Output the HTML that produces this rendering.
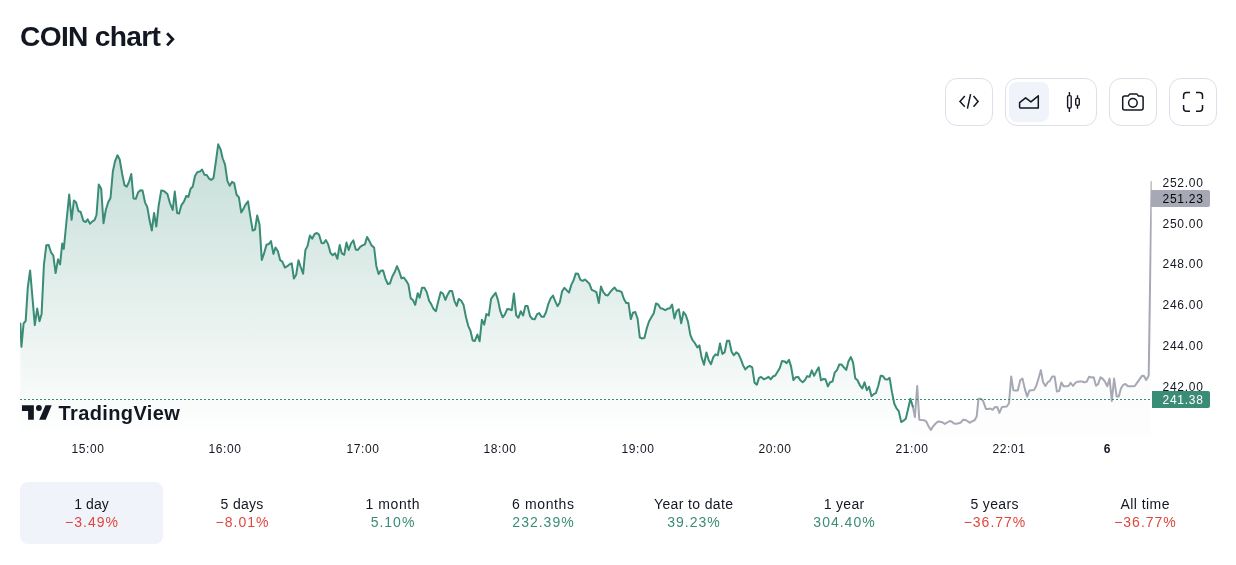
<!DOCTYPE html>
<html lang="en">
<head>
<meta charset="utf-8">
<title>COIN chart</title>
<style>
html,body{margin:0;padding:0;background:#fff;}
body{width:1236px;height:565px;position:relative;overflow:hidden;font-family:"Liberation Sans",sans-serif;color:#131722;}
.title{position:absolute;left:20px;top:19.7px;font-size:28.2px;font-weight:700;letter-spacing:-0.7px;line-height:32px;white-space:nowrap;color:#131722;}
.chev{position:absolute;left:160px;top:28px;}
.icons{position:absolute;left:940px;top:78px;}
.btn{position:absolute;top:78px;height:48px;box-sizing:border-box;border:1px solid #dcdfe9;border-radius:12px;background:#fff;}
.btn svg{position:absolute;}
.sel{position:absolute;left:3px;top:3px;width:40px;height:40px;border-radius:8px;background:#f0f3fa;}
#chart{position:absolute;left:0;top:130px;}
.tabs{position:absolute;left:20px;top:482px;width:1197px;height:62px;}
.tab{position:absolute;top:0;width:143px;height:62px;border-radius:8px;text-align:center;font-size:14px;}
.tab.on{background:#f0f3fa;}
.tab .l{position:absolute;left:0;right:0;top:13px;line-height:18px;color:#131722;letter-spacing:0.1px;}
.tab .v{position:absolute;left:0;right:0;top:31px;line-height:18px;letter-spacing:1px;text-indent:1px;}
.neg{color:#e0463d;}
.pos{color:#3a8d76;}
</style>
</head>
<body>
<div class="title">COIN chart</div>
<svg class="chev" width="20" height="24" viewBox="160 28 20 24"><path d="M167.1 33.3 L172.8 39.3 L167.1 45.4" fill="none" stroke="#131722" stroke-width="2.8" stroke-miterlimit="10"/></svg>

<div class="btn" style="left:945px;width:48px;"></div>
<div class="btn" style="left:1005px;width:92px;"><div class="sel"></div></div>
<div class="btn" style="left:1109px;width:48px;"></div>
<div class="btn" style="left:1169px;width:48px;"></div>
<svg class="icons" width="296" height="48" viewBox="940 78 296 48" fill="none" stroke="#131722" stroke-width="1.5">
<path d="M964.8 96.1 L960 101.4 L964.8 106.7 M970.6 94.1 L967.4 108.7 M973.5 96.1 L978.1 101.4 L973.5 106.7"/>
<path d="M1020.4 107.9 H1038.3 V95.8 L1030.9 101.9 L1025.6 97.8 L1019.6 102.6 V107.1 a0.8 0.8 0 0 0 0.8 0.8 Z" stroke-linejoin="round"/>
<path d="M1069.4 92.1 V95.6 M1069.4 108 V111.9 M1077.5 95.2 V98.4 M1077.5 105.2 V108.7" stroke-width="1.4"/>
<rect x="1067.6" y="95.6" width="3.6" height="12.4" rx="1.2" stroke-width="1.4"/>
<rect x="1075.7" y="98.4" width="3.6" height="6.8" rx="1.2" stroke-width="1.4"/>
<path d="M1124.7 96.1 H1127.6 a1 1 0 0 0 0.9 -0.5 L1129.3 94.4 a1 1 0 0 1 0.9 -0.5 H1136.4 a1 1 0 0 1 0.9 0.5 L1138.1 95.6 a1 1 0 0 0 0.9 0.5 H1141.1 a2 2 0 0 1 2 2 V108 a2 2 0 0 1 -2 2 H1124.7 a2 2 0 0 1 -2 -2 V98.1 a2 2 0 0 1 2 -2 Z"/>
<circle cx="1132.9" cy="102.85" r="4.3"/>
<path d="M1183.6 99 V95.6 a3 3 0 0 1 3 -3 H1190 M1196 92.6 H1199.5 a3 3 0 0 1 3 3 V99 M1202.5 104.9 V108.2 a3 3 0 0 1 -3 3 H1196 M1190 111.2 H1186.6 a3 3 0 0 1 -3 -3 V104.9"/>
</svg>

<svg id="chart" width="1236" height="340" viewBox="0 130 1236 340">
<!--CHART-->
<defs>
<linearGradient id="gg" gradientUnits="userSpaceOnUse" x1="0" y1="135" x2="0" y2="435"><stop offset="0" stop-color="#3a8c76" stop-opacity="0.30"/><stop offset="1" stop-color="#3a8c76" stop-opacity="0"/></linearGradient>
<linearGradient id="yg" gradientUnits="userSpaceOnUse" x1="0" y1="135" x2="0" y2="435"><stop offset="0" stop-color="#a6a9b5" stop-opacity="0.10"/><stop offset="1" stop-color="#a6a9b5" stop-opacity="0.02"/></linearGradient>
<clipPath id="cp"><rect x="20" y="130" width="1131.7" height="305"/></clipPath>
</defs>
<g clip-path="url(#cp)">
<path d="M20.4 323.5 L21.4 346.8 L23.6 323.5 L25.7 320.9 L27.8 287.3 L30.1 270.4 L32.5 298.0 L34.8 325.2 L37.2 308.6 L39.5 321.3 L41.6 313.9 L43.9 265.0 L46.3 245.3 L48.6 244.9 L51.0 252.3 L53.3 255.5 L55.6 273.1 L58.0 259.3 L60.1 264.4 L62.2 243.5 L63.8 249.0 L66.5 221.0 L69.2 194.5 L71.6 219.8 L73.9 200.4 L76.0 202.3 L78.4 211.0 L80.7 212.0 L83.3 220.8 L85.6 222.0 L87.7 219.4 L90.0 223.7 L92.4 221.4 L94.5 220.2 L96.5 215.0 L98.8 184.4 L101.2 188.7 L103.5 223.3 L105.8 210.0 L108.2 202.3 L110.5 198.0 L112.9 171.2 L115.0 161.4 L117.5 155.2 L119.7 159.5 L122.2 174.0 L124.5 185.2 L126.7 186.7 L129.0 181.9 L131.3 174.0 L133.5 198.4 L135.8 198.8 L138.2 192.2 L140.5 190.2 L142.6 190.6 L145.0 202.3 L147.3 207.2 L149.5 219.8 L151.8 230.5 L154.1 213.0 L156.3 226.6 L158.6 206.2 L161.2 190.6 L163.9 191.0 L167.4 194.1 L169.7 202.3 L172.7 210.0 L174.8 191.6 L177.1 213.0 L179.1 213.6 L181.4 205.2 L183.8 201.9 L186.3 196.0 L188.4 196.9 L190.6 188.7 L192.7 186.7 L195.0 176.0 L197.4 172.1 L199.9 171.5 L202.1 169.6 L204.4 174.7 L206.7 175.0 L209.1 178.6 L211.2 179.9 L213.5 178.0 L215.9 161.4 L218.2 144.3 L220.7 149.7 L222.7 158.5 L225.0 164.3 L227.4 180.9 L229.7 185.8 L232.0 181.9 L234.2 183.2 L236.5 194.5 L238.9 197.4 L241.2 212.4 L243.3 209.1 L245.7 204.3 L248.0 201.3 L250.3 216.3 L252.7 230.5 L255.0 229.6 L257.2 215.5 L259.5 224.4 L261.8 260.0 L263.9 253.9 L266.5 244.7 L268.9 244.0 L271.0 241.1 L273.4 253.9 L275.5 247.5 L277.8 251.0 L280.2 260.2 L282.3 261.6 L284.9 267.6 L287.3 266.2 L289.4 264.5 L291.7 263.3 L293.9 278.6 L296.2 274.7 L298.5 260.2 L300.7 267.0 L303.1 273.7 L305.4 250.0 L307.5 246.1 L309.9 235.5 L312.2 238.7 L314.6 234.0 L317.0 233.0 L319.1 234.7 L321.5 243.0 L323.7 243.2 L325.9 240.1 L328.2 244.4 L330.5 252.9 L332.7 255.3 L335.0 253.2 L337.4 258.8 L339.7 244.9 L341.8 253.4 L344.2 254.8 L346.5 242.5 L348.7 250.0 L351.0 243.5 L353.4 240.4 L355.7 249.6 L357.8 250.0 L360.2 246.8 L362.5 245.4 L364.9 244.4 L367.1 236.9 L369.4 241.1 L371.5 245.4 L374.1 247.5 L376.3 265.9 L378.6 274.1 L380.7 270.8 L383.1 270.4 L385.4 278.6 L387.8 284.0 L389.9 283.6 L392.3 276.5 L394.6 272.3 L397.0 266.2 L399.3 271.6 L401.5 278.4 L403.8 277.5 L406.2 280.8 L408.4 284.4 L410.7 298.4 L412.8 299.9 L415.2 304.8 L417.7 293.2 L419.6 297.7 L422.0 287.8 L424.4 287.8 L426.7 292.1 L429.1 300.8 L431.2 304.1 L433.6 309.1 L435.9 311.2 L438.3 301.3 L440.7 292.1 L442.9 293.5 L445.4 299.9 L447.5 294.9 L449.7 290.9 L452.1 290.9 L454.4 300.8 L456.7 305.9 L458.8 298.9 L461.2 300.8 L463.6 305.1 L465.9 316.8 L468.2 325.8 L470.4 330.6 L472.7 340.5 L474.9 340.9 L477.4 334.5 L479.6 341.3 L481.9 319.7 L484.2 324.6 L486.4 314.0 L488.8 315.4 L491.1 298.9 L493.4 295.6 L495.6 292.8 L497.9 299.9 L500.3 311.2 L502.7 317.3 L504.8 314.7 L507.2 309.1 L509.5 309.3 L511.8 310.2 L513.9 293.5 L516.2 315.4 L518.4 317.8 L520.8 311.2 L523.1 315.4 L525.4 305.9 L527.6 305.9 L530.0 316.1 L532.4 319.0 L534.7 319.3 L537.0 314.4 L539.2 313.0 L541.5 316.8 L543.8 316.8 L546.0 312.2 L548.3 304.1 L550.6 298.4 L553.0 295.6 L555.1 300.8 L557.5 306.2 L559.8 302.4 L562.1 291.3 L564.4 287.9 L566.8 290.4 L569.0 292.6 L571.5 284.4 L573.6 280.2 L575.8 273.4 L578.1 273.8 L580.4 279.9 L582.8 280.9 L584.9 279.5 L587.2 281.6 L589.4 283.7 L591.7 289.8 L594.0 290.8 L596.4 292.2 L598.8 303.1 L601.0 286.5 L603.3 292.2 L605.7 295.0 L607.8 295.5 L610.1 292.2 L612.5 289.4 L614.6 287.5 L617.0 290.8 L619.3 290.8 L621.7 292.2 L623.8 298.8 L626.2 303.1 L628.5 303.1 L630.8 319.1 L633.0 312.7 L635.3 312.0 L637.6 318.7 L639.8 337.5 L642.2 338.5 L644.4 337.9 L646.8 328.3 L649.0 321.5 L651.5 317.0 L653.7 313.4 L656.0 303.5 L658.2 304.5 L660.5 308.2 L662.8 308.8 L665.2 310.2 L667.5 308.8 L669.9 308.2 L672.1 304.5 L674.4 318.4 L676.7 311.0 L678.8 309.2 L681.2 323.3 L683.5 312.0 L685.7 314.8 L688.0 321.9 L690.4 335.1 L692.5 340.0 L694.8 343.0 L697.4 347.5 L699.4 345.4 L701.6 357.4 L704.0 364.8 L706.4 352.4 L708.7 360.2 L711.0 364.2 L713.2 357.4 L715.5 354.3 L717.8 355.3 L720.0 343.5 L722.3 353.9 L724.6 352.4 L727.0 340.7 L729.2 340.7 L731.6 351.7 L733.8 355.3 L736.2 352.4 L738.4 353.9 L740.8 359.1 L743.0 365.2 L745.4 369.4 L747.6 367.0 L749.8 365.9 L752.2 367.3 L754.6 382.9 L756.9 384.6 L759.0 377.9 L761.1 376.9 L763.8 379.3 L766.1 378.4 L768.5 376.9 L770.7 379.3 L773.0 376.5 L775.3 375.5 L777.7 371.6 L779.8 368.0 L782.1 360.9 L784.5 361.4 L786.6 363.1 L789.0 359.9 L791.1 366.6 L793.4 380.1 L795.8 377.2 L798.2 376.9 L800.3 380.3 L802.7 382.2 L805.0 380.1 L807.1 376.1 L809.5 376.9 L811.8 370.4 L814.1 375.8 L816.3 371.6 L818.7 367.3 L821.0 380.3 L823.4 378.9 L825.5 379.3 L827.9 386.4 L830.1 382.2 L832.5 381.5 L834.7 372.7 L837.0 370.1 L839.3 364.5 L841.5 364.5 L843.8 367.3 L846.2 369.9 L848.5 361.2 L850.9 357.0 L853.1 362.6 L855.2 378.2 L857.5 380.3 L859.9 385.3 L862.3 388.5 L864.5 382.4 L866.9 390.2 L869.1 386.7 L871.5 396.2 L873.7 394.2 L875.9 393.1 L878.3 385.7 L880.7 375.8 L882.9 376.1 L885.1 379.2 L887.5 379.6 L889.6 377.8 L892.0 392.4 L894.3 403.7 L896.5 408.3 L898.8 411.2 L901.2 422.1 L903.5 420.7 L905.9 418.5 L908.2 408.6 L910.4 398.7 L912.8 406.5 L912.8 435 L20.4 435 Z" fill="url(#gg)"/>
<path d="M912.8 406.5 L914.9 417.1 L917.2 386.0 L919.3 419.7 L921.7 420.0 L924.0 420.2 L926.4 421.7 L928.5 426.3 L930.9 429.9 L933.2 426.3 L935.6 423.5 L938.0 421.4 L940.3 421.7 L942.7 422.5 L944.8 423.9 L947.2 422.5 L949.8 421.0 L951.9 421.7 L954.0 423.5 L956.4 423.8 L958.7 423.2 L960.8 422.5 L963.2 419.7 L965.6 420.0 L967.9 421.4 L970.0 422.8 L972.4 421.1 L974.6 420.2 L976.7 416.4 L978.5 398.7 L980.9 398.7 L983.1 400.8 L985.9 408.9 L988.0 408.9 L990.4 408.6 L992.7 409.8 L994.8 407.2 L997.2 406.9 L999.4 412.9 L1002.0 406.9 L1004.4 406.7 L1006.8 406.5 L1009.0 403.3 L1011.2 376.4 L1013.3 390.2 L1015.7 390.5 L1017.8 390.5 L1020.2 380.3 L1022.5 378.6 L1024.9 389.1 L1027.2 396.6 L1029.4 390.5 L1031.7 390.2 L1034.1 389.9 L1036.2 386.0 L1038.6 378.2 L1040.9 370.1 L1043.0 382.0 L1045.4 386.0 L1047.6 382.4 L1049.8 381.0 L1052.2 376.4 L1054.6 376.4 L1056.9 391.6 L1059.2 390.9 L1061.4 382.4 L1063.6 386.3 L1066.0 386.3 L1068.4 386.0 L1070.6 382.9 L1073.0 386.0 L1075.3 382.9 L1077.6 381.7 L1079.8 381.5 L1082.2 381.5 L1084.5 382.4 L1086.8 381.5 L1089.0 376.8 L1091.5 377.5 L1093.7 377.2 L1096.0 385.7 L1098.2 383.9 L1100.5 377.2 L1102.8 378.9 L1105.0 381.7 L1107.3 386.3 L1109.6 378.6 L1111.8 400.9 L1114.1 378.6 L1116.7 396.6 L1118.8 396.6 L1120.9 388.5 L1123.3 384.8 L1125.4 383.9 L1128.0 386.3 L1130.2 386.3 L1132.5 386.3 L1134.8 386.0 L1137.0 382.9 L1139.3 379.6 L1141.7 376.1 L1143.8 375.8 L1146.2 380.0 L1148.7 375.4 L1151.6 182.0 L1151 435 L912.8 435 Z" fill="url(#yg)"/>
<path d="M912.8 406.5 L914.9 417.1 L917.2 386.0 L919.3 419.7 L921.7 420.0 L924.0 420.2 L926.4 421.7 L928.5 426.3 L930.9 429.9 L933.2 426.3 L935.6 423.5 L938.0 421.4 L940.3 421.7 L942.7 422.5 L944.8 423.9 L947.2 422.5 L949.8 421.0 L951.9 421.7 L954.0 423.5 L956.4 423.8 L958.7 423.2 L960.8 422.5 L963.2 419.7 L965.6 420.0 L967.9 421.4 L970.0 422.8 L972.4 421.1 L974.6 420.2 L976.7 416.4 L978.5 398.7 L980.9 398.7 L983.1 400.8 L985.9 408.9 L988.0 408.9 L990.4 408.6 L992.7 409.8 L994.8 407.2 L997.2 406.9 L999.4 412.9 L1002.0 406.9 L1004.4 406.7 L1006.8 406.5 L1009.0 403.3 L1011.2 376.4 L1013.3 390.2 L1015.7 390.5 L1017.8 390.5 L1020.2 380.3 L1022.5 378.6 L1024.9 389.1 L1027.2 396.6 L1029.4 390.5 L1031.7 390.2 L1034.1 389.9 L1036.2 386.0 L1038.6 378.2 L1040.9 370.1 L1043.0 382.0 L1045.4 386.0 L1047.6 382.4 L1049.8 381.0 L1052.2 376.4 L1054.6 376.4 L1056.9 391.6 L1059.2 390.9 L1061.4 382.4 L1063.6 386.3 L1066.0 386.3 L1068.4 386.0 L1070.6 382.9 L1073.0 386.0 L1075.3 382.9 L1077.6 381.7 L1079.8 381.5 L1082.2 381.5 L1084.5 382.4 L1086.8 381.5 L1089.0 376.8 L1091.5 377.5 L1093.7 377.2 L1096.0 385.7 L1098.2 383.9 L1100.5 377.2 L1102.8 378.9 L1105.0 381.7 L1107.3 386.3 L1109.6 378.6 L1111.8 400.9 L1114.1 378.6 L1116.7 396.6 L1118.8 396.6 L1120.9 388.5 L1123.3 384.8 L1125.4 383.9 L1128.0 386.3 L1130.2 386.3 L1132.5 386.3 L1134.8 386.0 L1137.0 382.9 L1139.3 379.6 L1141.7 376.1 L1143.8 375.8 L1146.2 380.0 L1148.7 375.4 L1151.6 182.0" fill="none" stroke="#a6a9b5" stroke-width="2" stroke-linejoin="round" stroke-linecap="round"/>
<path d="M20.4 323.5 L21.4 346.8 L23.6 323.5 L25.7 320.9 L27.8 287.3 L30.1 270.4 L32.5 298.0 L34.8 325.2 L37.2 308.6 L39.5 321.3 L41.6 313.9 L43.9 265.0 L46.3 245.3 L48.6 244.9 L51.0 252.3 L53.3 255.5 L55.6 273.1 L58.0 259.3 L60.1 264.4 L62.2 243.5 L63.8 249.0 L66.5 221.0 L69.2 194.5 L71.6 219.8 L73.9 200.4 L76.0 202.3 L78.4 211.0 L80.7 212.0 L83.3 220.8 L85.6 222.0 L87.7 219.4 L90.0 223.7 L92.4 221.4 L94.5 220.2 L96.5 215.0 L98.8 184.4 L101.2 188.7 L103.5 223.3 L105.8 210.0 L108.2 202.3 L110.5 198.0 L112.9 171.2 L115.0 161.4 L117.5 155.2 L119.7 159.5 L122.2 174.0 L124.5 185.2 L126.7 186.7 L129.0 181.9 L131.3 174.0 L133.5 198.4 L135.8 198.8 L138.2 192.2 L140.5 190.2 L142.6 190.6 L145.0 202.3 L147.3 207.2 L149.5 219.8 L151.8 230.5 L154.1 213.0 L156.3 226.6 L158.6 206.2 L161.2 190.6 L163.9 191.0 L167.4 194.1 L169.7 202.3 L172.7 210.0 L174.8 191.6 L177.1 213.0 L179.1 213.6 L181.4 205.2 L183.8 201.9 L186.3 196.0 L188.4 196.9 L190.6 188.7 L192.7 186.7 L195.0 176.0 L197.4 172.1 L199.9 171.5 L202.1 169.6 L204.4 174.7 L206.7 175.0 L209.1 178.6 L211.2 179.9 L213.5 178.0 L215.9 161.4 L218.2 144.3 L220.7 149.7 L222.7 158.5 L225.0 164.3 L227.4 180.9 L229.7 185.8 L232.0 181.9 L234.2 183.2 L236.5 194.5 L238.9 197.4 L241.2 212.4 L243.3 209.1 L245.7 204.3 L248.0 201.3 L250.3 216.3 L252.7 230.5 L255.0 229.6 L257.2 215.5 L259.5 224.4 L261.8 260.0 L263.9 253.9 L266.5 244.7 L268.9 244.0 L271.0 241.1 L273.4 253.9 L275.5 247.5 L277.8 251.0 L280.2 260.2 L282.3 261.6 L284.9 267.6 L287.3 266.2 L289.4 264.5 L291.7 263.3 L293.9 278.6 L296.2 274.7 L298.5 260.2 L300.7 267.0 L303.1 273.7 L305.4 250.0 L307.5 246.1 L309.9 235.5 L312.2 238.7 L314.6 234.0 L317.0 233.0 L319.1 234.7 L321.5 243.0 L323.7 243.2 L325.9 240.1 L328.2 244.4 L330.5 252.9 L332.7 255.3 L335.0 253.2 L337.4 258.8 L339.7 244.9 L341.8 253.4 L344.2 254.8 L346.5 242.5 L348.7 250.0 L351.0 243.5 L353.4 240.4 L355.7 249.6 L357.8 250.0 L360.2 246.8 L362.5 245.4 L364.9 244.4 L367.1 236.9 L369.4 241.1 L371.5 245.4 L374.1 247.5 L376.3 265.9 L378.6 274.1 L380.7 270.8 L383.1 270.4 L385.4 278.6 L387.8 284.0 L389.9 283.6 L392.3 276.5 L394.6 272.3 L397.0 266.2 L399.3 271.6 L401.5 278.4 L403.8 277.5 L406.2 280.8 L408.4 284.4 L410.7 298.4 L412.8 299.9 L415.2 304.8 L417.7 293.2 L419.6 297.7 L422.0 287.8 L424.4 287.8 L426.7 292.1 L429.1 300.8 L431.2 304.1 L433.6 309.1 L435.9 311.2 L438.3 301.3 L440.7 292.1 L442.9 293.5 L445.4 299.9 L447.5 294.9 L449.7 290.9 L452.1 290.9 L454.4 300.8 L456.7 305.9 L458.8 298.9 L461.2 300.8 L463.6 305.1 L465.9 316.8 L468.2 325.8 L470.4 330.6 L472.7 340.5 L474.9 340.9 L477.4 334.5 L479.6 341.3 L481.9 319.7 L484.2 324.6 L486.4 314.0 L488.8 315.4 L491.1 298.9 L493.4 295.6 L495.6 292.8 L497.9 299.9 L500.3 311.2 L502.7 317.3 L504.8 314.7 L507.2 309.1 L509.5 309.3 L511.8 310.2 L513.9 293.5 L516.2 315.4 L518.4 317.8 L520.8 311.2 L523.1 315.4 L525.4 305.9 L527.6 305.9 L530.0 316.1 L532.4 319.0 L534.7 319.3 L537.0 314.4 L539.2 313.0 L541.5 316.8 L543.8 316.8 L546.0 312.2 L548.3 304.1 L550.6 298.4 L553.0 295.6 L555.1 300.8 L557.5 306.2 L559.8 302.4 L562.1 291.3 L564.4 287.9 L566.8 290.4 L569.0 292.6 L571.5 284.4 L573.6 280.2 L575.8 273.4 L578.1 273.8 L580.4 279.9 L582.8 280.9 L584.9 279.5 L587.2 281.6 L589.4 283.7 L591.7 289.8 L594.0 290.8 L596.4 292.2 L598.8 303.1 L601.0 286.5 L603.3 292.2 L605.7 295.0 L607.8 295.5 L610.1 292.2 L612.5 289.4 L614.6 287.5 L617.0 290.8 L619.3 290.8 L621.7 292.2 L623.8 298.8 L626.2 303.1 L628.5 303.1 L630.8 319.1 L633.0 312.7 L635.3 312.0 L637.6 318.7 L639.8 337.5 L642.2 338.5 L644.4 337.9 L646.8 328.3 L649.0 321.5 L651.5 317.0 L653.7 313.4 L656.0 303.5 L658.2 304.5 L660.5 308.2 L662.8 308.8 L665.2 310.2 L667.5 308.8 L669.9 308.2 L672.1 304.5 L674.4 318.4 L676.7 311.0 L678.8 309.2 L681.2 323.3 L683.5 312.0 L685.7 314.8 L688.0 321.9 L690.4 335.1 L692.5 340.0 L694.8 343.0 L697.4 347.5 L699.4 345.4 L701.6 357.4 L704.0 364.8 L706.4 352.4 L708.7 360.2 L711.0 364.2 L713.2 357.4 L715.5 354.3 L717.8 355.3 L720.0 343.5 L722.3 353.9 L724.6 352.4 L727.0 340.7 L729.2 340.7 L731.6 351.7 L733.8 355.3 L736.2 352.4 L738.4 353.9 L740.8 359.1 L743.0 365.2 L745.4 369.4 L747.6 367.0 L749.8 365.9 L752.2 367.3 L754.6 382.9 L756.9 384.6 L759.0 377.9 L761.1 376.9 L763.8 379.3 L766.1 378.4 L768.5 376.9 L770.7 379.3 L773.0 376.5 L775.3 375.5 L777.7 371.6 L779.8 368.0 L782.1 360.9 L784.5 361.4 L786.6 363.1 L789.0 359.9 L791.1 366.6 L793.4 380.1 L795.8 377.2 L798.2 376.9 L800.3 380.3 L802.7 382.2 L805.0 380.1 L807.1 376.1 L809.5 376.9 L811.8 370.4 L814.1 375.8 L816.3 371.6 L818.7 367.3 L821.0 380.3 L823.4 378.9 L825.5 379.3 L827.9 386.4 L830.1 382.2 L832.5 381.5 L834.7 372.7 L837.0 370.1 L839.3 364.5 L841.5 364.5 L843.8 367.3 L846.2 369.9 L848.5 361.2 L850.9 357.0 L853.1 362.6 L855.2 378.2 L857.5 380.3 L859.9 385.3 L862.3 388.5 L864.5 382.4 L866.9 390.2 L869.1 386.7 L871.5 396.2 L873.7 394.2 L875.9 393.1 L878.3 385.7 L880.7 375.8 L882.9 376.1 L885.1 379.2 L887.5 379.6 L889.6 377.8 L892.0 392.4 L894.3 403.7 L896.5 408.3 L898.8 411.2 L901.2 422.1 L903.5 420.7 L905.9 418.5 L908.2 408.6 L910.4 398.7 L912.8 406.5" fill="none" stroke="#3a8c76" stroke-width="2" stroke-linejoin="round" stroke-linecap="round"/>
<line x1="20" y1="399.5" x2="1151" y2="399.5" stroke="#3a8c76" stroke-width="1" stroke-dasharray="2 2"/>
</g>
<g fill="#131722"><path d="M21.95 405.2 H33.85 V419.8 H28.1 V411 H21.95 Z M45.5 405.2 H51.7 L45.7 419.8 H39.2 Z"/><circle cx="38.9" cy="408" r="2.9"/></g>
<text x="58.6" y="419.8" font-family="Liberation Sans, sans-serif" font-weight="700" font-size="20" letter-spacing="0.37" fill="#131722">TradingView</text>
<text x="1162.5" y="187.3" font-family="Liberation Sans, sans-serif" font-size="12" letter-spacing="0.75" fill="#131722">252.00</text>
<text x="1162.5" y="228.3" font-family="Liberation Sans, sans-serif" font-size="12" letter-spacing="0.75" fill="#131722">250.00</text>
<text x="1162.5" y="268.0" font-family="Liberation Sans, sans-serif" font-size="12" letter-spacing="0.75" fill="#131722">248.00</text>
<text x="1162.5" y="308.8" font-family="Liberation Sans, sans-serif" font-size="12" letter-spacing="0.75" fill="#131722">246.00</text>
<text x="1162.5" y="349.5" font-family="Liberation Sans, sans-serif" font-size="12" letter-spacing="0.75" fill="#131722">244.00</text>
<text x="1162.5" y="391.0" font-family="Liberation Sans, sans-serif" font-size="12" letter-spacing="0.75" fill="#131722">242.00</text>
<path d="M1151 190 H1208 a2 2 0 0 1 2 2 V205 a2 2 0 0 1 -2 2 H1151 Z" fill="#a6a9b5"/>
<text x="1162.5" y="202.8" font-family="Liberation Sans, sans-serif" font-size="12" letter-spacing="0.75" fill="#050608">251.23</text>
<path d="M1152 391 H1208 a2 2 0 0 1 2 2 V406 a2 2 0 0 1 -2 2 H1152 Z" fill="#3a8c76"/>
<text x="1162.5" y="403.8" font-family="Liberation Sans, sans-serif" font-size="12" letter-spacing="0.75" fill="#ffffff">241.38</text>
<text x="88" y="452.5" text-anchor="middle" font-family="Liberation Sans, sans-serif" font-size="12" letter-spacing="0.55" fill="#131722">15:00</text>
<text x="225" y="452.5" text-anchor="middle" font-family="Liberation Sans, sans-serif" font-size="12" letter-spacing="0.55" fill="#131722">16:00</text>
<text x="363" y="452.5" text-anchor="middle" font-family="Liberation Sans, sans-serif" font-size="12" letter-spacing="0.55" fill="#131722">17:00</text>
<text x="500" y="452.5" text-anchor="middle" font-family="Liberation Sans, sans-serif" font-size="12" letter-spacing="0.55" fill="#131722">18:00</text>
<text x="638" y="452.5" text-anchor="middle" font-family="Liberation Sans, sans-serif" font-size="12" letter-spacing="0.55" fill="#131722">19:00</text>
<text x="775" y="452.5" text-anchor="middle" font-family="Liberation Sans, sans-serif" font-size="12" letter-spacing="0.55" fill="#131722">20:00</text>
<text x="912" y="452.5" text-anchor="middle" font-family="Liberation Sans, sans-serif" font-size="12" letter-spacing="0.55" fill="#131722">21:00</text>
<text x="1009" y="452.5" text-anchor="middle" font-family="Liberation Sans, sans-serif" font-size="12" letter-spacing="0.55" fill="#131722">22:01</text>
<text x="1107" y="452.5" text-anchor="middle" font-family="Liberation Sans, sans-serif" font-size="12" font-weight="700" fill="#131722">6</text>
<!--/CHART-->
</svg>

<div class="tabs">
<div class="tab on" style="left:0px"><div class="l">1 day</div><div class="v neg">−3.49%</div></div>
<div class="tab" style="left:150.5px"><div class="l" style="letter-spacing:0.3px;text-indent:0.3px">5 days</div><div class="v neg">−8.01%</div></div>
<div class="tab" style="left:301px"><div class="l" style="letter-spacing:0.6px;text-indent:0.6px">1 month</div><div class="v pos">5.10%</div></div>
<div class="tab" style="left:451.5px"><div class="l" style="letter-spacing:0.65px;text-indent:0.65px">6 months</div><div class="v pos">232.39%</div></div>
<div class="tab" style="left:602px"><div class="l" style="letter-spacing:0.37px;text-indent:0.37px">Year to date</div><div class="v pos">39.23%</div></div>
<div class="tab" style="left:752.5px"><div class="l" style="letter-spacing:0.3px;text-indent:0.3px">1 year</div><div class="v pos">304.40%</div></div>
<div class="tab" style="left:903px"><div class="l" style="letter-spacing:0.35px;text-indent:0.35px">5 years</div><div class="v neg">−36.77%</div></div>
<div class="tab" style="left:1053.5px"><div class="l" style="letter-spacing:0.45px;text-indent:0.45px">All time</div><div class="v neg">−36.77%</div></div>
</div>
</body>
</html>
